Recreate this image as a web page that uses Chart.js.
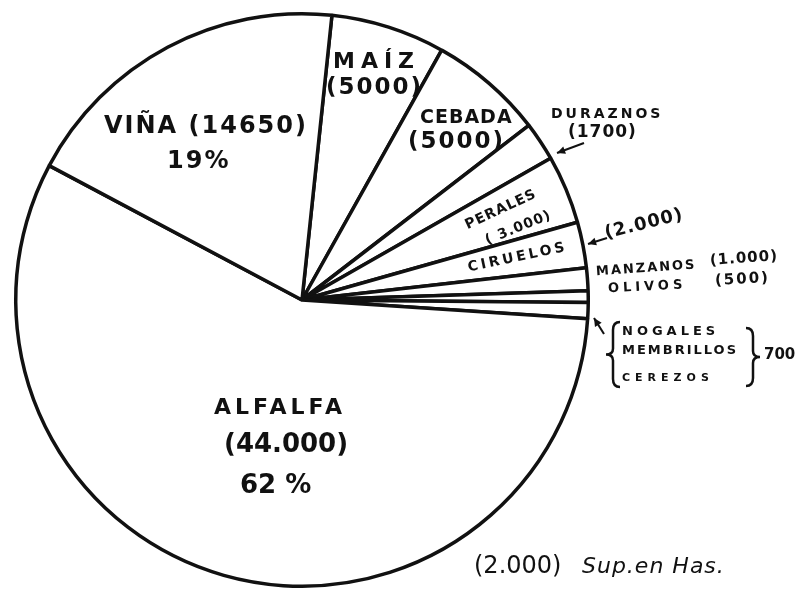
<!DOCTYPE html>
<html>
<head>
<meta charset="utf-8">
<script src="https://cdn.jsdelivr.net/npm/chart.js@4.4.1/dist/chart.umd.min.js"></script>
<style>
  html, body { margin: 0; background: #fff; }
</style>
</head>
<body>
<canvas id="pie" width="804" height="591"></canvas>
<script>
// Superficie cultivada (hectáreas), en sentido horario desde arriba
const crops = ["MAÍZ", "CEBADA", "DURAZNOS", "PERALES", "CIRUELOS", "MANZANOS", "OLIVOS",
               "NOGALES / MEMBRILLOS / CEREZOS", "ALFALFA", "VIÑA"];
const hectares = [5000, 5000, 1700, 3000, 2000, 1000, 500, 700, 44000, 14650];
const percentLabels = { "ALFALFA": "62 %", "VIÑA": "19%" };

const INK = "#111";

// write one line of hand-lettered text
function txt(ctx, s, x, y, size, opts = {}) {
    ctx.save();
    ctx.translate(x, y);
    if (opts.rot) ctx.rotate(opts.rot * Math.PI / 180);
    ctx.font = (opts.italic ? "italic " : "") + (opts.weight || "bold") + " " + size + "px 'DejaVu Sans'";
    ctx.letterSpacing = (opts.spacing || 0) + "px";
    ctx.fillStyle = INK;
    ctx.textAlign = opts.align || "left";
    ctx.textBaseline = "middle";
    ctx.fillText(s, 0, 0);
    ctx.restore();
}

// small leader arrow ending on the rim
function arrow(ctx, x1, y1, x2, y2) {
    const a = Math.atan2(y2 - y1, x2 - x1);
    ctx.save();
    ctx.strokeStyle = INK;
    ctx.fillStyle = INK;
    ctx.lineWidth = 2;
    ctx.beginPath();
    ctx.moveTo(x1, y1);
    ctx.lineTo(x2, y2);
    ctx.stroke();
    ctx.beginPath();
    ctx.moveTo(x2, y2);
    ctx.lineTo(x2 - 9 * Math.cos(a - 0.45), y2 - 9 * Math.sin(a - 0.45));
    ctx.lineTo(x2 - 9 * Math.cos(a + 0.45), y2 - 9 * Math.sin(a + 0.45));
    ctx.closePath();
    ctx.fill();
    ctx.restore();
}

function brace(ctx, x, top, bottom, dir) {
    const mid = (top + bottom) / 2, w = 7 * dir;
    ctx.save();
    ctx.strokeStyle = INK;
    ctx.lineWidth = 2.5;
    ctx.beginPath();
    ctx.moveTo(x + w, top);
    ctx.quadraticCurveTo(x, top, x, top + 8);
    ctx.lineTo(x, mid - 6);
    ctx.quadraticCurveTo(x, mid, x - w, mid);
    ctx.quadraticCurveTo(x, mid, x, mid + 6);
    ctx.lineTo(x, bottom - 8);
    ctx.quadraticCurveTo(x, bottom, x + w, bottom);
    ctx.stroke();
    ctx.restore();
}

const handLabels = {
    id: "handLabels",
    afterDraw(chart) {
        const ctx = chart.ctx;
        txt(ctx, "MAÍZ", 333, 62, 22, { spacing: 6 });
        txt(ctx, "(5000)", 326, 88, 23, { spacing: 2 });
        txt(ctx, "CEBADA", 420, 118, 19, { spacing: 1 });
        txt(ctx, "(5000)", 408, 142, 23, { spacing: 2 });
        txt(ctx, "DURAZNOS", 551, 114, 14, { spacing: 3 });
        txt(ctx, "(1700)", 568, 133, 17, { spacing: 1 });
        txt(ctx, "PERALES", 466, 226, 14, { rot: -25, spacing: 1 });
        txt(ctx, "( 3.000)", 486, 241, 14, { rot: -22, spacing: 1 });
        txt(ctx, "CIRUELOS", 468, 268, 14, { rot: -12, spacing: 3 });
        txt(ctx, "(2.000)", 605, 234, 18, { rot: -14, spacing: 1 });
        txt(ctx, "MANZANOS", 596, 272, 13, { rot: -4, spacing: 2 });
        txt(ctx, "(1.000)", 710, 261, 15, { rot: -4, spacing: 1 });
        txt(ctx, "OLIVOS", 608, 289, 13, { rot: -3, spacing: 4 });
        txt(ctx, "(500)", 715, 281, 15, { rot: -3, spacing: 2 });
        txt(ctx, "NOGALES", 622, 332, 13, { spacing: 4 });
        txt(ctx, "MEMBRILLOS", 622, 351, 13, { spacing: 2 });
        txt(ctx, "CEREZOS", 622, 378, 11, { spacing: 5 });
        txt(ctx, "700", 764, 355, 15, { spacing: 0 });
        brace(ctx, 613, 322, 387, 1);
        brace(ctx, 753, 328, 386, -1);

        txt(ctx, "VIÑA (14650)", 104, 127, 24, { spacing: 2 });
        txt(ctx, percentLabels["VIÑA"], 167, 162, 24, { spacing: 2 });
        txt(ctx, "ALFALFA", 214, 408, 22, { spacing: 4 });
        txt(ctx, "(44.000)", 224, 445, 26, { spacing: 0 });
        txt(ctx, percentLabels["ALFALFA"], 240, 486, 26, { spacing: 0 });

        txt(ctx, "(2.000)", 474, 567, 24, { spacing: 0, weight: "normal" });
        txt(ctx, "Sup.en Has.", 582, 567, 22, { italic: true, weight: "normal", spacing: 1 });

        arrow(ctx, 584, 143, 557, 153);
        arrow(ctx, 607, 238, 588, 244);
        arrow(ctx, 604, 334, 594, 318);
    }
};

new Chart(document.getElementById("pie"), {
    type: "pie",
    data: {
        labels: crops,
        datasets: [{
            data: hectares,
            backgroundColor: "#fff",
            borderColor: INK,
            borderWidth: 3.5,
            borderAlign: "center"
        }]
    },
    options: {
        responsive: false,
        animation: false,
        rotation: 6,
        layout: { padding: { left: 14, right: 214, top: 12, bottom: 3 } },
        plugins: {
            legend: { display: false },
            tooltip: { enabled: false }
        }
    },
    plugins: [handLabels]
});
</script>
</body>
</html>
